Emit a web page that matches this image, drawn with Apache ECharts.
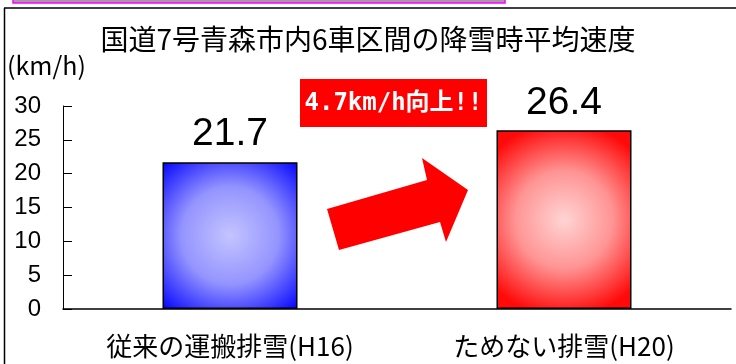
<!DOCTYPE html>
<html><head><meta charset="utf-8">
<script src="https://cdn.jsdelivr.net/npm/echarts@6/dist/echarts.min.js"></script>
<style>html,body{margin:0;padding:0;background:#fff}#c{width:736px;height:364px}</style>
</head><body><div id="c"></div>
<script>
const categories = ['従来の運搬排雪(H16)', 'ためない排雪(H20)'];
const values = [21.7, 26.4];
const yTicks = [0, 5, 10, 15, 20, 25, 30];
const titleText = '国道7号青森市内6車区間の降雪時平均速度';
const unitText = '(km/h)';
const noteText = '4.7km/h向上!!';

const FONT = '"Noto Sans CJK JP", "Noto Sans", sans-serif';
const NUMFONT = '"Liberation Sans", Arial, sans-serif';
const chart = echarts.init(document.getElementById('c'));
const grads = [
  { type: 'radial', x: 0.5, y: 0.5, r: 0.72, colorStops: [{offset: 0, color: '#c4c4ff'}, {offset: 0.5, color: '#9494ff'}, {offset: 1, color: '#0a0aff'}] },
  { type: 'radial', x: 0.5, y: 0.5, r: 0.72, colorStops: [{offset: 0, color: '#ffd4d4'}, {offset: 0.5, color: '#ff9494'}, {offset: 1, color: '#ff0a0a'}] }
];
chart.setOption({
  animation: false,
  title: { text: titleText, left: 'center', top: 20, textStyle: { fontFamily: FONT, fontSize: 28, fontWeight: 'normal', color: '#000' } },
  grid: { left: 63, right: 5, top: 106, bottom: 55 },
  xAxis: {
    type: 'category', data: categories,
    axisLine: { lineStyle: { color: '#000', width: 1.5 } },
    axisTick: { show: false },
    axisLabel: { fontFamily: FONT, fontSize: 26, color: '#000', margin: 24 }
  },
  yAxis: {
    type: 'value', min: yTicks[0], max: yTicks[yTicks.length - 1], interval: 5,
    name: unitText, nameLocation: 'end', nameGap: 28,
    nameTextStyle: { fontFamily: FONT, fontSize: 25, color: '#000', align: 'left', padding: [0, 0, 0, -56] },
    axisLine: { show: true, lineStyle: { color: '#000', width: 1 } },
    axisTick: { show: true, inside: true, length: 9, lineStyle: { color: '#000' } },
    splitLine: { show: false },
    axisLabel: { fontFamily: NUMFONT, fontSize: 24, color: '#000', margin: 22 }
  },
  series: [{
    type: 'bar', barWidth: 135,
    data: values.map((v, i) => ({ value: v, itemStyle: { color: grads[i], borderColor: '#000', borderWidth: 1.5 } })),
    label: { show: true, position: 'top', distance: 8, fontFamily: NUMFONT, fontSize: 39, color: '#000', formatter: p => p.value.toFixed(1) }
  }],
  graphic: [
    { type: 'line', shape: { x1: 4, y1: 8, x2: 736, y2: 8 }, style: { stroke: '#000', lineWidth: 1.5 } },
    { type: 'line', shape: { x1: 4.5, y1: 8, x2: 4.5, y2: 364 }, style: { stroke: '#000', lineWidth: 1.5 } },
    { type: 'rect', shape: { x: 13, y: -2, width: 492, height: 5 }, style: { fill: '#a898a8', stroke: '#ff00ff', lineWidth: 1.5 } },
    { type: 'polygon', shape: { points: [[339, 250], [327, 209], [427, 180], [422, 158], [468, 190], [446, 242], [440, 222]] }, style: { fill: '#ff0000' } },
    { type: 'rect', shape: { x: 300, y: 79, width: 187, height: 48 }, style: { fill: '#ff0000' } },
    { type: 'text', x: 393.5, y: 104, style: { text: noteText, fill: '#fff', font: 'bold 24px "DejaVu Sans Mono", "Noto Sans CJK JP", monospace', align: 'center', verticalAlign: 'middle' } }
  ]
});
</script></body></html>
